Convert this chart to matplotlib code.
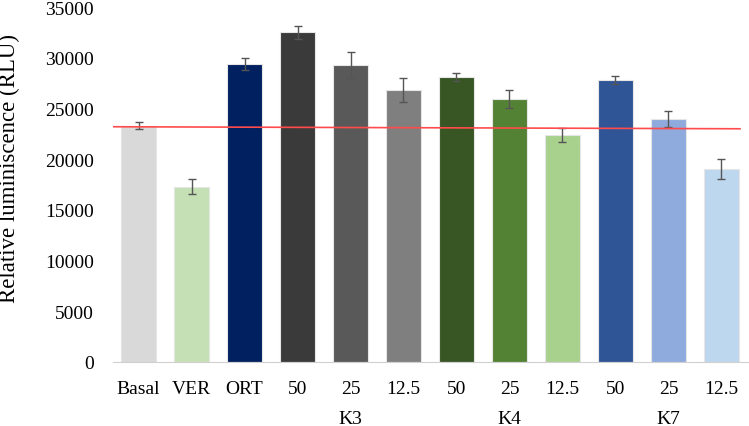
import matplotlib.pyplot as plt
import numpy as np

plt.rcParams['font.family'] = ['Liberation Serif', 'DejaVu Serif']

labels = ["Basal", "VER", "ORT", "50", "25", "12.5", "50", "25", "12.5", "50", "25", "12.5"]
values = [23300, 17300, 29400, 32500, 29300, 26800, 28100, 25900, 22400, 27800, 24000, 19000]
errors = [350, 700, 600, 600, 1300, 1200, 400, 900, 700, 400, 800, 1000]
colors = ["#d9d9d9", "#c5e0b4", "#002060", "#3a3a3a", "#595959", "#7f7f7f",
          "#375623", "#548235", "#a9d18e", "#2f5597", "#8faadc", "#bdd7ee"]
groups = ["K3", "K4", "K7"]
group_pos = [4, 7, 10]
baseline = [23200, 23000]

fig = plt.figure(figsize=(7.49, 4.27), dpi=100)
ax = fig.add_axes([0.151, 0.15, 0.849, 0.831])

x = np.arange(len(values))
ax.bar(x, values, width=0.66, color=colors, edgecolor="#e6e6e6", linewidth=0.8,
       yerr=errors, error_kw=dict(ecolor="#555555", elinewidth=1, capsize=3, capthick=1))

# reference line at basal level
ax.plot([-0.48, 11.35], baseline, color="#ff4b4b", linewidth=1.2, zorder=3)

ax.set_xlim(-0.48, 11.52)
ax.set_ylim(0, 35000)
ax.set_yticks(np.arange(0, 35001, 5000))
ax.set_xticks(x)
ax.set_xticklabels(labels)
ax.tick_params(axis="both", length=0, labelsize=14)
ax.tick_params(axis="x", pad=13)
ax.tick_params(axis="y", pad=14)

for s in ["top", "right", "left"]:
    ax.spines[s].set_visible(False)
ax.spines["bottom"].set_color("#d0d0d0")

ax.set_ylabel("Relative luminiscence (RLU)", fontsize=16.5)
ax.yaxis.set_label_coords(-0.146, 0.549)

for g, p in zip(groups, group_pos):
    ax.text(p, -0.158, g, transform=ax.get_xaxis_transform(), ha="center", va="center", fontsize=14)

fig.savefig("out.png", dpi=100)
